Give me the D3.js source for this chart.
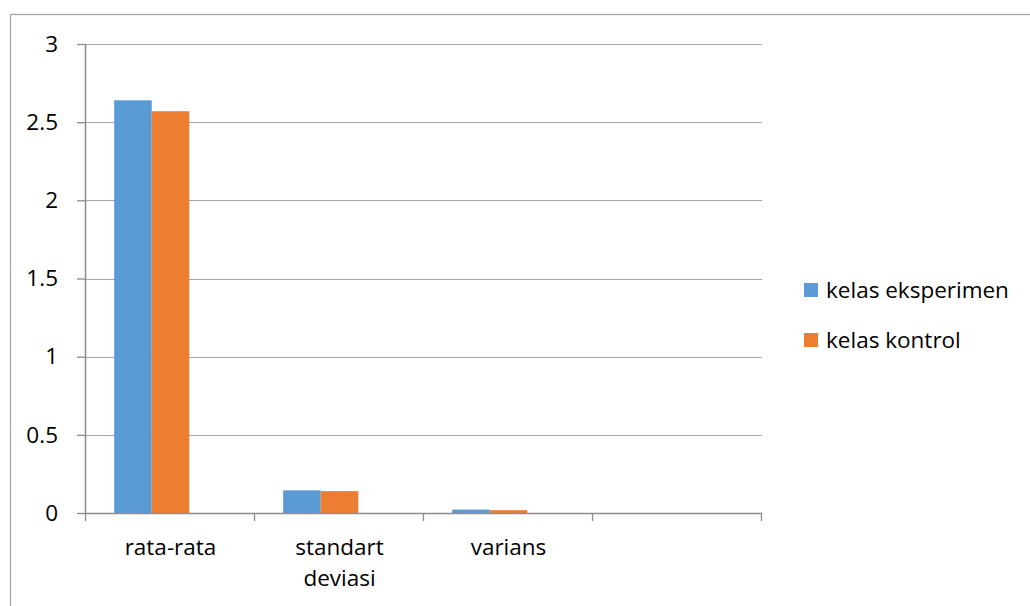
<!DOCTYPE html>
<html>
<head>
<meta charset="utf-8">
<script src="https://cdn.jsdelivr.net/npm/d3@7"></script>
<style>
  html, body { margin: 0; padding: 0; background: #fff; }
  svg { display: block; font-family: "Open Sans", Lato, "Liberation Sans", sans-serif; }
</style>
</head>
<body>
<svg id="chart" width="1030" height="606"></svg>
<script>
// Categories (the fourth slot is an empty category)
const categories = ["rata-rata", "standart\ndeviasi", "varians", ""];
const seriesNames = ["kelas eksperimen", "kelas kontrol"];
const seriesColors = ["#5b9bd5", "#ed7d31"];
const eksperimenValues = [2.64, 0.145, 0.022, null];
const kontrolValues = [2.57, 0.14, 0.018, null];
const yTicks = [0, 0.5, 1, 1.5, 2, 2.5, 3];

const series = [eksperimenValues, kontrolValues];
const FONT = "'Open Sans', Lato, sans-serif";
const FS = 22.5;

const svg = d3.select("#chart");

// outer chart frame
svg.append("rect")
  .attr("x", 10.5).attr("y", 14.5)
  .attr("width", 1040).attr("height", 620)
  .attr("fill", "none").attr("stroke", "#a6a6a6").attr("stroke-width", 1.3);

const plot = { left: 86, right: 762, top: 44, bottom: 513 };

const x0 = d3.scaleBand()
  .domain(d3.range(categories.length))
  .range([plot.left, plot.right])
  .paddingInner(0).paddingOuter(0);

// each category holds three bar slots, the third is unused; gap ≈ 150% of a bar
const slotCount = 3;
const barW = x0.bandwidth() / (slotCount + 1.5);
const groupOffset = (x0.bandwidth() - slotCount * barW) / 2;

const y = d3.scaleLinear().domain([0, 3]).range([plot.bottom, plot.top]);

// horizontal gridlines
svg.append("g")
  .selectAll("line")
  .data(yTicks.filter(d => d > 0))
  .join("line")
  .attr("x1", plot.left).attr("x2", plot.right)
  .attr("y1", d => Math.round(y(d)) + 0.5).attr("y2", d => Math.round(y(d)) + 0.5)
  .attr("stroke", "#a6a6a6").attr("stroke-width", 1);

// y axis
const yAxis = svg.append("g")
  .attr("transform", `translate(${plot.left},0)`)
  .call(d3.axisLeft(y).tickValues(yTicks).tickSize(9).tickPadding(19).tickFormat(d3.format("")));
yAxis.select(".domain").remove();
yAxis.selectAll(".tick line").attr("stroke", "#8c8c8c").attr("stroke-width", 1.3);
yAxis.selectAll(".tick text")
  .attr("fill", "#000").attr("font-size", FS).attr("font-family", FONT);

svg.append("line")
  .attr("x1", plot.left - 0.5).attr("x2", plot.left - 0.5)
  .attr("y1", plot.top).attr("y2", plot.bottom + 0.5)
  .attr("stroke", "#8c8c8c").attr("stroke-width", 1.5);

// bars
series.forEach((vals, si) => {
  svg.append("g")
    .selectAll("rect")
    .data(vals.map((v, i) => ({ v, i })).filter(d => d.v != null))
    .join("rect")
    .attr("x", d => x0(d.i) + groupOffset + si * barW)
    .attr("width", barW)
    .attr("y", d => y(d.v))
    .attr("height", d => y(0) - y(d.v))
    .attr("fill", seriesColors[si]);
});

// x axis line and category ticks
svg.append("line")
  .attr("x1", plot.left - 1).attr("x2", plot.right)
  .attr("y1", plot.bottom + 0.5).attr("y2", plot.bottom + 0.5)
  .attr("stroke", "#8c8c8c").attr("stroke-width", 1.5);

svg.append("g")
  .selectAll("line")
  .data(d3.range(categories.length + 1))
  .join("line")
  .attr("x1", i => (i < categories.length ? x0(i) : plot.right) - 0.5)
  .attr("x2", i => (i < categories.length ? x0(i) : plot.right) - 0.5)
  .attr("y1", plot.bottom).attr("y2", plot.bottom + 8)
  .attr("stroke", "#8c8c8c").attr("stroke-width", 1.3);

// category labels
svg.append("g")
  .selectAll("text")
  .data(categories)
  .join("text")
  .attr("x", (d, i) => x0(i) + x0.bandwidth() / 2)
  .attr("y", 555)
  .attr("text-anchor", "middle")
  .attr("font-size", FS)
  .attr("font-family", FONT)
  .attr("fill", "#000")
  .each(function(d) {
    d.split("\n").forEach((line, li) => {
      d3.select(this).append("tspan")
        .attr("x", d3.select(this).attr("x"))
        .attr("dy", li === 0 ? 0 : 31)
        .text(line);
    });
  });

// legend
const legend = svg.append("g");
seriesNames.forEach((name, si) => {
  const ly = 283 + si * 50;
  legend.append("rect")
    .attr("x", 804).attr("y", ly).attr("width", 14).attr("height", 14)
    .attr("fill", seriesColors[si]);
  legend.append("text")
    .attr("x", 826).attr("y", ly + 15)
    .attr("font-size", FS).attr("font-family", FONT).attr("fill", "#000")
    .text(name);
});
</script>
</body>
</html>
